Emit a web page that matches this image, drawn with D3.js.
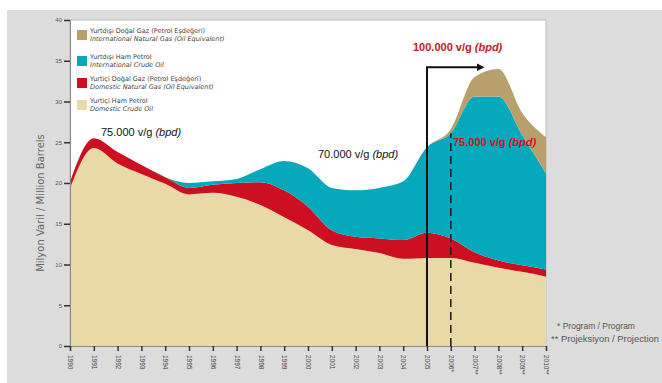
<!DOCTYPE html>
<html>
<head>
<meta charset="utf-8">
<script src="https://cdn.jsdelivr.net/npm/d3@7"></script>
<style>
  body { margin: 0; background: #fff; }
  svg { display: block; font-family: "DejaVu Sans", sans-serif; }
</style>
</head>
<body>
<svg width="662" height="383"></svg>
<script>
// Years on the x axis (* program, ** projection)
const years = ['1990', '1991', '1992', '1993', '1994', '1995', '1996', '1997', '1998', '1999',
  '2000', '2001', '2002', '2003', '2004', '2005', '2006*', '2007**', '2008**', '2009**', '2010**'];

// Million barrels per year
const domesticCrude = [19.3, 24.3, 22.4, 21.1, 19.9, 18.6, 18.8, 18.3, 17.3, 15.8,
  14.2, 12.4, 11.9, 11.4, 10.7, 10.8, 10.8, 10.2, 9.6, 9.1, 8.5];
const domesticGas = [0.8, 1.2, 1.4, 1.1, 0.8, 0.8, 1.0, 1.7, 2.8, 3.3,
  2.9, 1.8, 1.5, 1.8, 2.3, 3.1, 2.4, 1.3, 0.9, 0.8, 0.9];
const intlCrude = [0, 0, 0, 0, 0, 0.6, 0.4, 0.5, 1.6, 3.6,
  4.7, 5.2, 5.7, 6.2, 7.2, 10.5, 12.9, 19.1, 20.1, 16.0, 11.8];
const intlGas = [0, 0, 0, 0, 0, 0, 0, 0, 0, 0,
  0, 0, 0, 0, 0, 0, 0.5, 2.4, 3.4, 2.7, 4.4];

const yTicks = [0, 5, 10, 15, 20, 25, 30, 35, 40];

const keys = ['domesticCrude', 'domesticGas', 'intlCrude', 'intlGas'];
const colors = ['#e8d9a6', '#cc1022', '#05a9bb', '#b9a06a'];
const legendTr = ['Yurtiçi Ham Petrol', 'Yurtiçi Doğal Gaz (Petrol Eşdeğeri)',
  'Yurtdışı Ham Petrol', 'Yurtdışı Doğal Gaz (Petrol Eşdeğeri)'];
const legendEn = ['Domestic Crude Oil', 'Domestic Natural Gas (Oil Equivalent)',
  'International Crude Oil', 'International Natural Gas (Oil Equivalent)'];

const rows = years.map((yr, i) => ({
  year: yr,
  domesticCrude: domesticCrude[i],
  domesticGas: domesticGas[i],
  intlCrude: intlCrude[i],
  intlGas: intlGas[i]
}));
const stacked = d3.stack().keys(keys)(rows);

const svg = d3.select('svg');

// grey page with a white plot panel
svg.append('rect').attr('x', 7).attr('y', 10).attr('width', 655).attr('height', 373).attr('fill', '#dcdcdc');

const margin = {top: 20, left: 70, right: 116, bottom: 37};
const W = 662 - margin.left - margin.right;
const H = 383 - margin.top - margin.bottom;

const x = d3.scalePoint().domain(years).range([margin.left, margin.left + W]);
const y = d3.scaleLinear().domain([0, 40]).range([margin.top + H, margin.top]);

svg.append('rect')
  .attr('x', margin.left).attr('y', margin.top)
  .attr('width', W).attr('height', H)
  .attr('fill', '#fff').attr('stroke', '#bdbdbd');

const area = d3.area()
  .x(d => x(d.data.year))
  .y0(d => y(d[0]))
  .y1(d => y(d[1]))
  .curve(d3.curveMonotoneX);

svg.append('g').selectAll('path')
  .data(stacked)
  .join('path')
    .attr('fill', (d, i) => colors[i])
    .attr('d', area);

// program / projection markers
const arrowTop = 34.2;
const arrowEnd = 17.4; // in year-index units
const step = x.step();
svg.append('defs').append('marker')
  .attr('id', 'head')
  .attr('viewBox', '0 0 10 10')
  .attr('refX', 2).attr('refY', 5)
  .attr('markerWidth', 4).attr('markerHeight', 4)
  .attr('orient', 'auto')
  .append('path').attr('d', 'M0,0L10,5L0,10z').attr('fill', '#111');

svg.append('path')
  .attr('d', `M${x('2005')},${y(0)}V${y(arrowTop)}H${x(years[0]) + step * arrowEnd - 6}`)
  .attr('fill', 'none').attr('stroke', '#111').attr('stroke-width', 2)
  .attr('marker-end', 'url(#head)');

svg.append('line')
  .attr('x1', x('2006*')).attr('x2', x('2006*'))
  .attr('y1', y(0)).attr('y2', y(26.1))
  .attr('stroke', '#222').attr('stroke-width', 1.6)
  .attr('stroke-dasharray', '8,5');

// axes
const yAxis = svg.append('g')
  .attr('transform', `translate(${margin.left},0)`)
  .call(d3.axisLeft(y).tickValues(yTicks).tickSize(6).tickPadding(2));
yAxis.select('.domain').attr('stroke', '#888');
yAxis.selectAll('.tick line').attr('stroke', '#333').attr('stroke-width', 1.5);
yAxis.selectAll('text').attr('font-size', 6).attr('fill', '#555');

const xAxis = svg.append('g')
  .attr('transform', `translate(0,${margin.top + H})`)
  .call(d3.axisBottom(x).tickSize(5));
xAxis.select('.domain').attr('stroke', '#888');
xAxis.selectAll('.tick line').attr('stroke', '#333').attr('stroke-width', 1.5);
xAxis.selectAll('text')
  .attr('font-size', 6.5).attr('fill', '#444')
  .attr('text-anchor', 'start')
  .attr('transform', 'rotate(90)')
  .attr('x', 9).attr('y', 0).attr('dy', '0.35em');

svg.append('text')
  .attr('transform', `translate(44,${margin.top + H / 2 + 20}) rotate(-90)`)
  .attr('text-anchor', 'middle')
  .attr('font-size', 10).attr('fill', '#666')
  .text('Milyon Varil / Million Barrels');

// legend
const legend = svg.append('g').attr('transform', 'translate(77,29)');
const order = [3, 2, 1, 0];
const rowY = [0, 26, 48, 70];
order.forEach((k, i) => {
  const g = legend.append('g').attr('transform', `translate(0,${rowY[i]})`);
  g.append('rect').attr('width', 10).attr('height', 10).attr('y', 1).attr('fill', colors[k]);
  g.append('text').attr('x', 13).attr('y', 4).attr('font-size', 6.5).attr('fill', '#444')
    .text(legendTr[k]);
  g.append('text').attr('x', 13).attr('y', 12).attr('font-size', 6.5).attr('fill', '#444')
    .attr('font-style', 'italic').text(legendEn[k]);
});

// annotations
function bpd(xPos, yPos, label, fill, weight) {
  const t = svg.append('text')
    .attr('x', xPos).attr('y', yPos)
    .attr('font-family', 'Liberation Sans, Arial, sans-serif')
    .attr('font-size', 11).attr('fill', fill).attr('font-weight', weight);
  t.append('tspan').text(label + ' v/g ');
  t.append('tspan').attr('font-style', 'italic').text('(bpd)');
}
bpd(101, 136, '75.000', '#111', 'normal');
bpd(318, 158, '70.000', '#111', 'normal');
bpd(413, 51, '100.000', '#c8161d', 'bold');
bpd(453, 146, '75.000', '#c8161d', 'bold');

// footnotes
svg.append('text').attr('x', 557).attr('y', 329)
  .attr('font-family', 'Liberation Sans, Arial, sans-serif')
  .attr('font-size', 8.5).attr('fill', '#555').text('* Program / Program');
svg.append('text').attr('x', 551).attr('y', 342)
  .attr('font-family', 'Liberation Sans, Arial, sans-serif')
  .attr('font-size', 8.5).attr('fill', '#555').attr('textLength', 108)
  .attr('lengthAdjust', 'spacingAndGlyphs')
  .text('** Projeksiyon / Projection');
</script>
</body>
</html>
